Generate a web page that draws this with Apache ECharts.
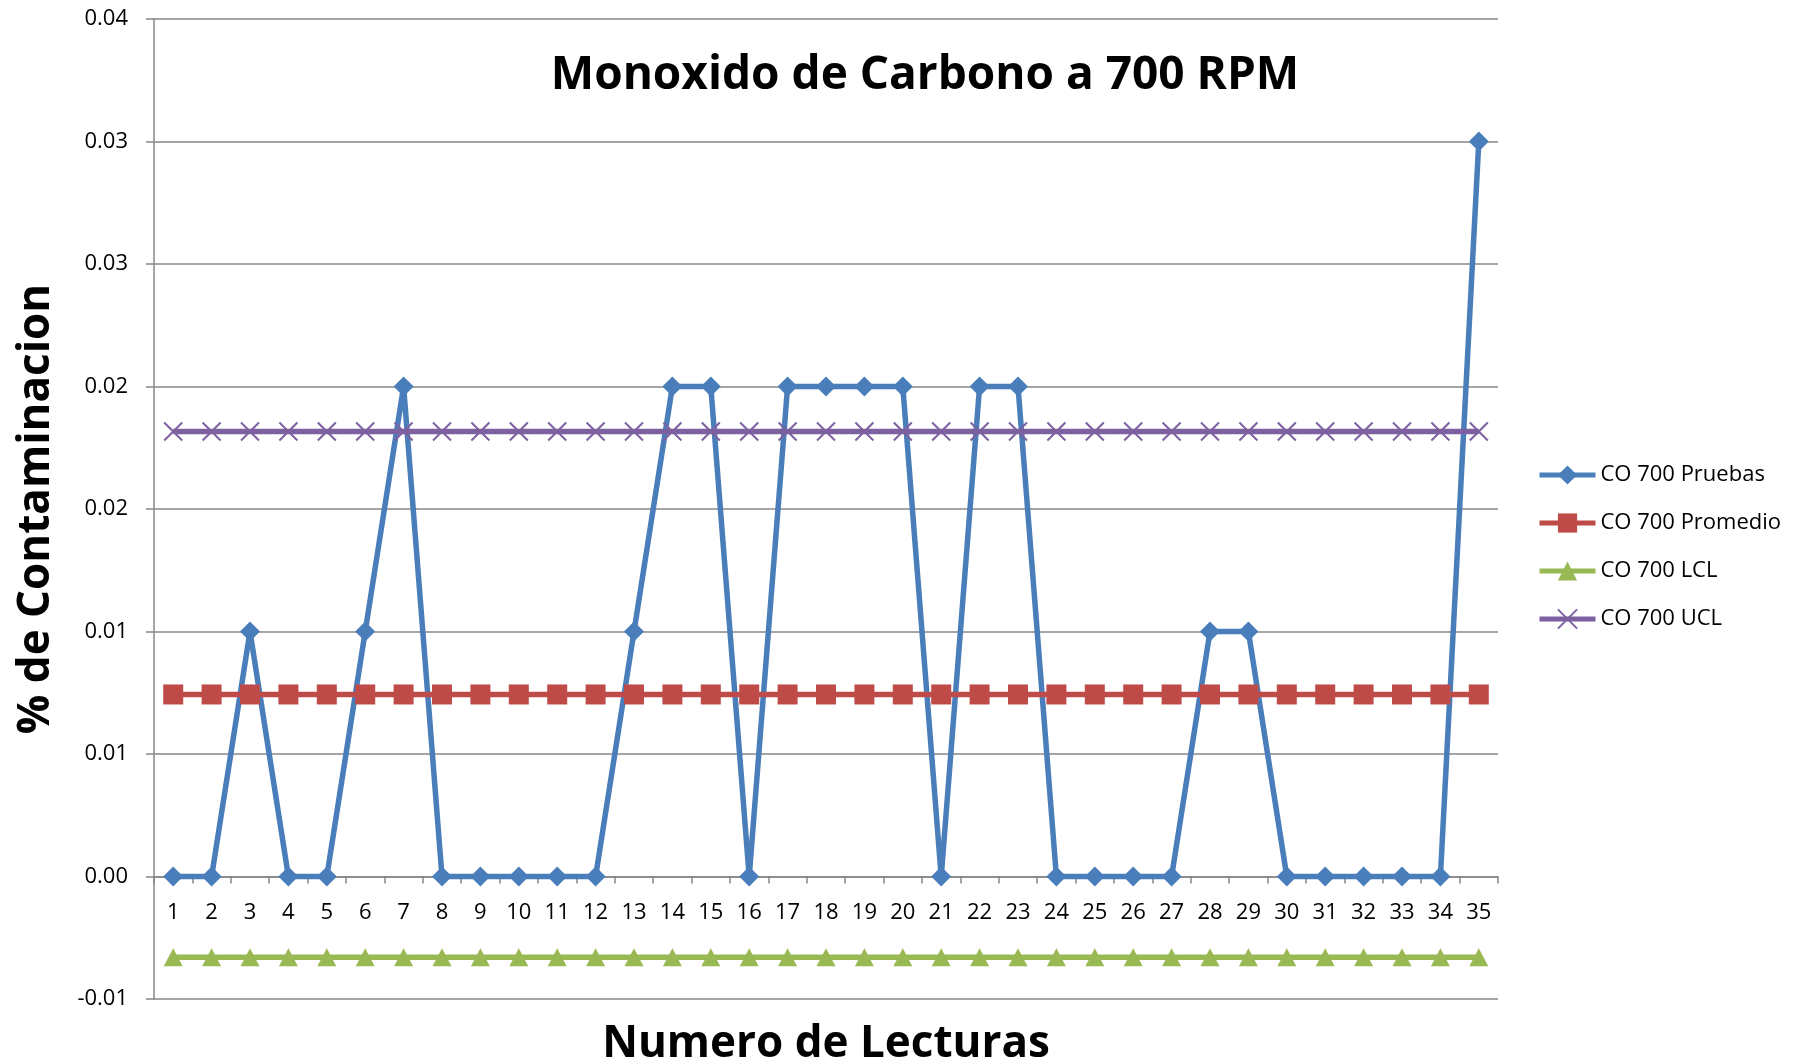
<!DOCTYPE html>
<html>
<head>
<meta charset="utf-8">
<script src="https://cdn.jsdelivr.net/npm/echarts@6/dist/echarts.min.js"></script>
<style>
  html, body { margin: 0; padding: 0; background: #fff; }
  #chart { width: 1807px; height: 1061px; }
</style>
</head>
<body>
<div id="chart"></div>
<script>
// datos
const lecturas = ["1","2","3","4","5","6","7","8","9","10","11","12","13","14","15","16","17","18","19","20",
  "21","22","23","24","25","26","27","28","29","30","31","32","33","34","35"];
const pruebas = [0, 0, 0.01, 0, 0, 0.01, 0.02, 0, 0, 0, 0, 0, 0.01, 0.02, 0.02, 0, 0.02, 0.02, 0.02, 0.02,
  0, 0.02, 0.02, 0, 0, 0, 0, 0.01, 0.01, 0, 0, 0, 0, 0, 0.03];
const promedio = [0.00743, 0.00743, 0.00743, 0.00743, 0.00743, 0.00743, 0.00743, 0.00743, 0.00743, 0.00743,
  0.00743, 0.00743, 0.00743, 0.00743, 0.00743, 0.00743, 0.00743, 0.00743, 0.00743, 0.00743,
  0.00743, 0.00743, 0.00743, 0.00743, 0.00743, 0.00743, 0.00743, 0.00743, 0.00743, 0.00743,
  0.00743, 0.00743, 0.00743, 0.00743, 0.00743];
const lcl = [-0.0033, -0.0033, -0.0033, -0.0033, -0.0033, -0.0033, -0.0033, -0.0033, -0.0033, -0.0033,
  -0.0033, -0.0033, -0.0033, -0.0033, -0.0033, -0.0033, -0.0033, -0.0033, -0.0033, -0.0033,
  -0.0033, -0.0033, -0.0033, -0.0033, -0.0033, -0.0033, -0.0033, -0.0033, -0.0033, -0.0033,
  -0.0033, -0.0033, -0.0033, -0.0033, -0.0033];
const ucl = [0.01816, 0.01816, 0.01816, 0.01816, 0.01816, 0.01816, 0.01816, 0.01816, 0.01816, 0.01816,
  0.01816, 0.01816, 0.01816, 0.01816, 0.01816, 0.01816, 0.01816, 0.01816, 0.01816, 0.01816,
  0.01816, 0.01816, 0.01816, 0.01816, 0.01816, 0.01816, 0.01816, 0.01816, 0.01816, 0.01816,
  0.01816, 0.01816, 0.01816, 0.01816, 0.01816];
const serieNombres = ["CO 700 Pruebas", "CO 700 Promedio", "CO 700 LCL", "CO 700 UCL"];

const font = '"Open Sans", "Liberation Sans", sans-serif';
const gris = "#878787";

// etiquetas como en Excel: 2 decimales, redondeo hacia arriba del .5
const fmtY = (v) => {
  const n = Math.round(v * 1000);
  const r = Math.sign(n) * Math.round(Math.abs(n) / 10);
  return (r / 100).toFixed(2);
};

const chart = echarts.init(document.getElementById("chart"));
const option = {
  animation: false,
  backgroundColor: "#fff",
  title: {
    text: "Monoxido de Carbono a 700 RPM",
    left: 920,
    top: 48,
    textAlign: "center",
    textStyle: { fontFamily: font, fontWeight: "bold", fontSize: 46, color: "#000" }
  },
  legend: {
    orient: "vertical",
    left: 1537,
    top: 464,
    padding: 0,
    itemWidth: 56,
    itemHeight: 24,
    itemGap: 26,
    data: serieNombres,
    lineStyle: { width: 5 },
    textStyle: { fontFamily: font, fontSize: 22, color: "#000" }
  },
  grid: { left: 154, right: 309, top: 19, bottom: 62, outerBoundsMode: "none" },
  xAxis: {
    type: "category",
    data: lecturas,
    boundaryGap: true,
    // el eje de categorias va sobre el valor 0 (una division por encima del borde)
    offset: -122.5,
    name: "Numero de Lecturas",
    nameLocation: "middle",
    nameGap: 146,
    nameMoveOverlap: false,
    nameTextStyle: { fontFamily: font, fontWeight: "bold", fontSize: 44, color: "#000" },
    axisLine: { onZero: false, lineStyle: { color: gris, width: 1.5 } },
    axisTick: { show: true, interval: 0, length: 7, lineStyle: { color: gris, width: 1.5 } },
    axisLabel: { interval: 0, margin: 25, fontFamily: font, fontSize: 22, color: "#000" }
  },
  yAxis: {
    type: "value",
    min: -0.005,
    max: 0.035,
    interval: 0.005,
    name: "% de Contaminacion",
    nameLocation: "middle",
    nameGap: 96,
    nameMoveOverlap: false,
    nameTextStyle: { fontFamily: font, fontWeight: "bold", fontSize: 44, color: "#000" },
    axisLine: { show: true, lineStyle: { color: gris, width: 1.5 } },
    axisTick: { show: true, length: 8, lineStyle: { color: gris, width: 1.5 } },
    axisLabel: { margin: 26, fontFamily: font, fontSize: 22, color: "#000", formatter: fmtY },
    splitLine: { show: true, lineStyle: { color: gris, width: 1.5 } }
  },
  series: [
    {
      name: serieNombres[0],
      type: "line",
      data: pruebas,
      z: 3,
      symbol: "diamond",
      symbolSize: 20,
      itemStyle: { color: "#4A7EBB" },
      lineStyle: { color: "#4A7EBB", width: 5.5 }
    },
    {
      name: serieNombres[1],
      type: "line",
      data: promedio,
      symbol: "rect",
      symbolSize: 20,
      itemStyle: { color: "#BE4B48" },
      lineStyle: { color: "#BE4B48", width: 5.5 }
    },
    {
      name: serieNombres[2],
      type: "line",
      data: lcl,
      symbol: "triangle",
      symbolSize: [19, 18],
      itemStyle: { color: "#98B954" },
      lineStyle: { color: "#98B954", width: 5.5 }
    },
    {
      name: serieNombres[3],
      type: "line",
      data: ucl,
      symbol: "path://M0,0L10,10M10,0L0,10",
      symbolSize: 18,
      itemStyle: { color: "#7D60A0", borderColor: "#7D60A0", borderWidth: 2 },
      lineStyle: { color: "#7D60A0", width: 5.5 }
    }
  ]
};
chart.setOption(option);
</script>
</body>
</html>
